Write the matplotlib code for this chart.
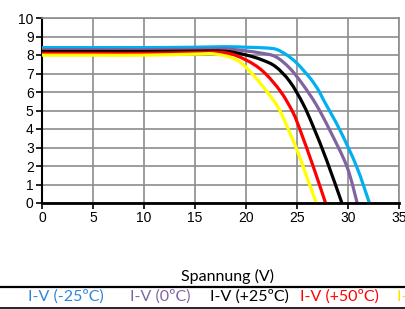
import matplotlib.pyplot as plt
from matplotlib.lines import Line2D
from matplotlib.path import Path
from matplotlib.patches import PathPatch

# I-V curves (Spannung V, Strom A)
v_m25 = [0, 5, 10, 15, 18, 20, 22, 23, 24, 25, 26.3, 27.1, 27.6, 29.2, 30.85, 32.1]
i_m25 = [8.4, 8.4, 8.4, 8.42, 8.45, 8.42, 8.38, 8.3, 8.0, 7.55, 6.74, 6.1, 5.57, 3.95, 1.96, 0]

v_0 = [0, 5, 10, 15, 18, 20, 21.5, 22.9, 24.3, 25.6, 26.9, 28.2, 29.9, 30.9]
i_0 = [8.29, 8.29, 8.29, 8.31, 8.33, 8.22, 8.1, 7.91, 7.28, 6.38, 5.3, 3.95, 1.96, 0]

v_25 = [0, 5, 10, 15, 18, 20, 21.5, 22.9, 24.3, 25.6, 26.6, 27.9, 29.4]
i_25 = [8.19, 8.19, 8.19, 8.21, 8.2, 8.0, 7.75, 7.37, 6.56, 5.35, 4.12, 2.32, 0]

v_50 = [0, 5, 10, 15, 18, 20, 21.7, 23.4, 24.6, 25.3, 26.6, 27.8]
i_50 = [8.09, 8.09, 8.09, 8.13, 8.12, 7.73, 7.1, 6.02, 4.9, 3.95, 1.96, 0]

v_75 = [0, 5, 10, 15, 17, 19.1, 20.7, 22.3, 23.4, 25, 25.95, 26.9]
i_75 = [7.99, 7.99, 7.99, 8.05, 8.05, 7.73, 6.92, 5.84, 4.9, 2.86, 1.42, 0]

labels = ["I-V (-25ºC)", "I-V (0ºC)", "I-V (+25ºC)", "I-V (+50ºC)", "I-V (+75ºC)"]
line_colors = ["#00B0F0", "#8064A2", "#000000", "#FF0000", "#FFFF00"]
text_colors = ["#2E86D6", "#8064A2", "#000000", "#FF0000", "#FFE000"]
legend_x = [28, 130, 210, 300, 397]


def smooth_path(xs, ys):
    # Excel-style smoothed line: Catmull-Rom through the points as cubic Beziers
    pts = list(zip(xs, ys))
    verts = [pts[0]]
    codes = [Path.MOVETO]
    for k in range(len(pts) - 1):
        p0 = pts[k - 1] if k > 0 else pts[k]
        p1, p2 = pts[k], pts[k + 1]
        p3 = pts[k + 2] if k + 2 < len(pts) else p2
        c1 = (p1[0] + (p2[0] - p0[0]) / 6, p1[1] + (p2[1] - p0[1]) / 6)
        c2 = (p2[0] - (p3[0] - p1[0]) / 6, p2[1] - (p3[1] - p1[1]) / 6)
        verts += [c1, c2, p2]
        codes += [Path.CURVE4] * 3
    return Path(verts, codes)


W, H = 406, 309
fig = plt.figure(figsize=(W / 100, H / 100), dpi=100)
ax = fig.add_axes([42 / W, (H - 203) / H, 357 / W, 185 / H])

series = [(v_m25, i_m25), (v_0, i_0), (v_25, i_25), (v_50, i_50), (v_75, i_75)]
for (v, i), c in zip(series, line_colors):
    ax.add_patch(PathPatch(smooth_path(v, i), fill=False, edgecolor=c, lw=2.3,
                           joinstyle="round", capstyle="butt", zorder=3))

ax.set_xlim(0, 35)
ax.set_ylim(0, 10)
ax.set_xticks(range(0, 36, 5))
ax.set_yticks(range(0, 11))
ax.grid(True, color="#8c8c8c", lw=1.2)
ax.set_axisbelow(True)
for s in ["top", "right"]:
    ax.spines[s].set_color("#8c8c8c")
    ax.spines[s].set_linewidth(1.2)
ax.spines["left"].set_linewidth(1.5)
ax.spines["bottom"].set_linewidth(2)
ax.spines["bottom"].set_zorder(4)
ax.tick_params(direction="out", length=4, width=1.2, pad=2,
               labelsize=10, labelfontfamily="Liberation Sans")

fig.text(228 / W, 1 - 276 / H, "Spannung (V)", ha="center", va="center",
         fontsize=11.5, family="Lato")

fig.add_artist(Line2D([0, 1], [1 - 287 / H] * 2, color="black", lw=1.6))
fig.add_artist(Line2D([0, 1], [1 - 307.5 / H] * 2, color="black", lw=1.2))
for lab, c, x in zip(labels, text_colors, legend_x):
    fig.text(x / W, 1 - 297 / H, lab, color=c, ha="left", va="center",
             fontsize=11.5, family="Lato")

fig.savefig("out.png", dpi=100)
